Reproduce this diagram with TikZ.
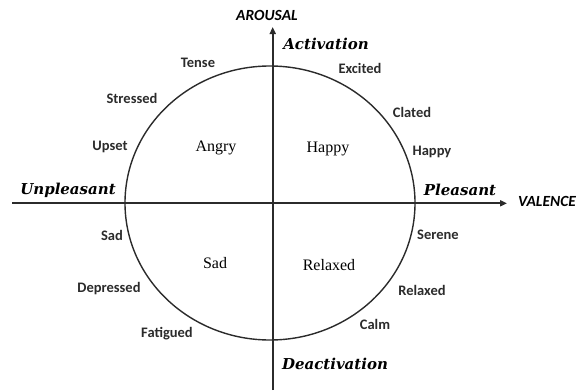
\documentclass[tikz,border=0pt]{standalone}
\usepackage{fontspec}
\setmainfont{Liberation Serif}
\setsansfont{Carlito}
\newfontfamily\polefont{DejaVu Serif}
\usepackage{tikz}
\usetikzlibrary{shapes.geometric, arrows.meta, positioning}
\definecolor{ink}{HTML}{2B2B2B}

\begin{document}
\begin{tikzpicture}[
    x=1pt, y=-1pt,
    lbl/.style={font=\sffamily\bfseries\fontsize{14.5}{14.5}\selectfont, text=ink, inner sep=0pt},
    mood/.style={font=\rmfamily\fontsize{16}{16}\selectfont, text=black, inner sep=0pt},
    pole/.style={font=\polefont\bfseries\itshape\fontsize{15}{15}\selectfont, text=black, inner sep=0pt},
    axname/.style={font=\sffamily\bfseries\itshape\fontsize{15.5}{15.5}\selectfont, text=black, inner sep=0pt},
    axis/.style={-{Triangle[length=7pt, width=6pt]}, line width=1.8pt, ink},
    ring/.style={line width=1.4pt, ink}
]
\useasboundingbox (0,0) rectangle (585,391);

% axes
\coordinate (vlo) at (272.7,390);
\coordinate (vhi) at (272.7,27);
\coordinate (hlo) at (12,203.3);
\coordinate (hhi) at (507,203.3);
\draw[axis] (vlo) -- (vhi);
\draw[axis] (hlo) -- (hhi);

% circle
\node[ring, draw, ellipse, minimum width=290pt, minimum height=274pt, inner sep=0pt] (circ) at (270,203) {};

% axis names
\node[axname] (arousal) at (267,15) {AROUSAL};
\node[axname] (valence) at (547,201) {VALENCE};

% poles
\node[pole] (act) at (326,44) {Activation};
\node[pole] (deact) at (335,364) {Deactivation};
\node[pole] (unpl) at (68,190) {Unpleasant};
\node[pole] (pleas) at (460,190) {Pleasant};

% quadrant moods
\node[mood] (angry) at (216,148) {Angry};
\node[mood] (happyq) at (328,149) {Happy};
\node[mood] (sadq) at (215,263) {Sad};
\node[mood] (relaxq) at (329,265) {Relaxed};

% words round the ring
\node[lbl] (tense) at (198,63) {Tense};
\node[lbl] (stressed) at (132,98) {Stressed};
\node[lbl] (upset) at (110,147) {Upset};
\node[lbl] (sad) at (112,235) {Sad};
\node[lbl] (depressed) at (109,289) {Depressed};
\node[lbl] (fatigued) at (167,334) {Fatigued};
\node[lbl] (excited) at (360,68) {Excited};
\node[lbl] (clated) at (412,112) {Clated};
\node[lbl] (happy) at (432,152) {Happy};
\node[lbl] (serene) at (438,235) {Serene};
\node[lbl] (relaxed) at (422,290) {Relaxed};
\node[lbl] (calm) at (375,324) {Calm};
\end{tikzpicture}
\end{document}
